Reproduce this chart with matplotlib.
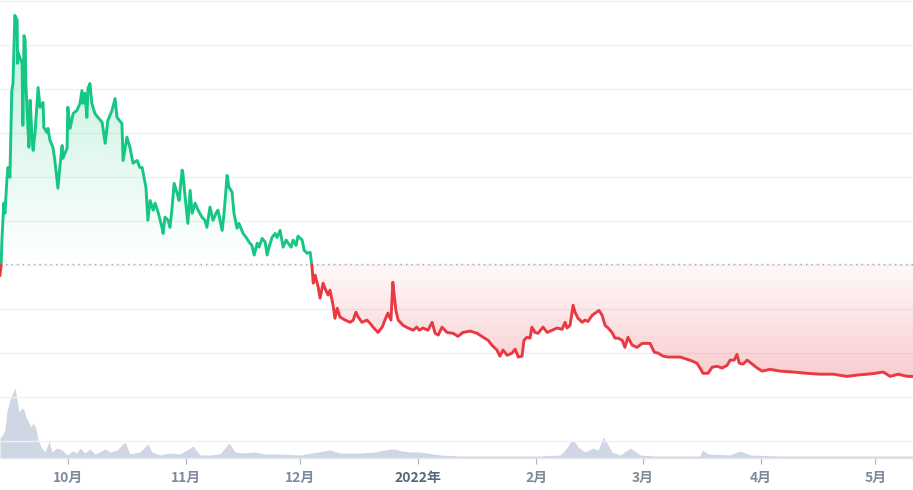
import numpy as np
import matplotlib
matplotlib.use("Agg")
import matplotlib.pyplot as plt
import matplotlib.dates as mdates
from matplotlib.patches import Rectangle
from matplotlib.path import Path
import matplotlib.transforms as mtransforms

plt.rcParams['font.family'] = ['Noto Sans CJK JP', 'DejaVu Sans']

# 데이터: 시작일(2021-09-13 06:00)로부터의 일수, 가격
start = np.datetime64('2021-09-13T06:00')
base_price = 5.02

price_days = [
    0, 0.3, 0.5, 1.0, 1.3, 1.8, 2.1, 2.6, 3.1, 3.4, 3.9, 4.5, 4.6, 4.7, 5.2, 5.8, 6.0, 6.3, 6.6, 6.8,
    7.1, 7.6,
    7.9, 8.4, 8.7, 9.2, 10.0, 10.5, 11.3, 11.5, 12.3, 12.6, 13.1, 13.9, 14.4, 15.2, 15.7, 16.3, 16.5,
    17.6, 17.8, 18.4, 19.2, 20.2, 21.0, 21.5, 21.8, 22.3, 22.8, 23.1, 23.6, 24.1, 24.9, 25.7, 26.8,
    27.6, 28.3, 29.4, 30.2, 30.7, 32.0, 32.3, 33.3, 34.1, 34.9, 36.0, 36.7,
    37.3, 37.8, 38.3, 38.8, 39.4, 40.2, 40.7, 41.5, 42.5, 42.8, 43.3, 44.1, 44.6, 45.1, 45.7, 46.5,
    47.0, 47.8, 48.0, 48.6, 49.3, 49.9, 50.4, 51.2, 52.0, 53.0, 53.8, 54.3, 55.1, 55.9, 56.7, 57.2,
    58.3, 58.8, 59.6, 60.1, 60.9, 61.4, 62.2, 62.7, 63.8, 64.6, 65.4, 66.1, 66.7, 67.5, 68.0, 68.8,
    69.6, 70.1, 70.6, 71.4, 72.2, 72.7, 73.5, 74.3, 75.1, 75.6, 76.4, 76.9, 77.7, 78.2, 79.3, 79.8,
    80.6, 81.4, 81.9, 82.2, 82.7, 83.5, 84.0, 84.8, 85.3, 86.1, 86.6, 87.4, 87.9, 88.5, 89.2, 90.6,
    91.9, 92.7, 93.4, 94.0, 95.0, 96.3, 97.1, 97.9, 99.2, 100.3, 101.0, 101.8, 102.6, 103.1, 103.4,
    103.9, 104.5, 105.8, 107.1, 108.4, 109.4, 110.0, 111.0, 112.3, 113.4, 114.2, 115.0, 116.0, 117.3,
    118.9, 120.2, 121.5, 123.4, 125.2, 126.8, 128.1, 129.1, 130.4, 131.2, 132.0, 133.1, 134.4, 135.2,
    136.0, 137.0, 137.5, 138.3, 139.1, 139.6, 140.4, 141.2, 142.5, 143.6, 144.9, 146.2, 147.5, 148.3,
    148.8, 149.6, 150.4, 150.9, 151.7, 152.8, 153.5, 154.3, 155.4, 156.2, 157.2, 158.0, 158.8, 159.6,
    160.6, 161.4, 162.2, 163.3, 164.0, 164.8, 165.9, 167.2, 168.5, 170.6, 171.7, 172.7, 174.0, 175.3,
    178.5, 180.3, 181.6, 182.9, 183.7, 184.5, 185.8, 186.9, 188.2, 189.5, 190.8, 191.6, 192.7, 193.4,
    194.0, 195.0, 196.1, 197.4, 198.7, 200.0, 202.1, 204.7, 208.1, 211.8, 215.2, 218.6, 222.3, 224.9,
    227.6, 229.7, 231.8, 233.6, 235.7, 238.1, 239.6,
]
prices = [
    4.77, 5.02, 5.57, 6.41, 6.18, 6.93, 7.22, 7.00, 8.97, 9.13, 10.68, 10.57, 9.59, 9.84, 9.72, 9.59, 8.18, 10.22, 10.11, 9.13,
    8.52, 7.68,
    8.75, 7.91, 7.61, 8.02, 9.04, 8.59, 8.70, 8.13, 8.02, 8.11, 7.84, 7.68, 7.38, 6.75, 7.22, 7.72, 7.43,
    7.66, 8.59, 8.11, 8.45, 8.52, 8.68, 8.97, 8.68, 8.91, 8.36, 9.02, 9.13, 8.68, 8.45, 8.36, 8.25,
    7.77, 8.29, 8.52, 8.79, 8.36, 8.22, 7.38, 7.91, 7.68, 7.32, 7.38, 7.22,
    7.22, 7.00, 6.77, 6.02, 6.47, 6.25, 6.41, 6.20, 5.86, 5.72, 6.09, 6.02, 5.86, 6.25, 6.86, 6.63,
    6.47, 7.16, 7.09, 6.54, 5.95, 6.70, 6.18, 6.41, 6.25, 6.09, 6.02, 5.86, 6.32, 6.02, 6.18, 6.25,
    5.79, 6.18, 7.04, 6.77, 6.66, 6.18, 5.84, 5.95, 5.72, 5.63, 5.52, 5.45, 5.23, 5.50, 5.41, 5.61,
    5.52, 5.23, 5.41, 5.63, 5.72, 5.63, 5.79, 5.41, 5.57, 5.50, 5.41, 5.57, 5.45, 5.66, 5.57, 5.34,
    5.27, 5.29, 4.95, 4.59, 4.77, 4.50, 4.25, 4.59, 4.47, 4.32, 4.43, 4.09, 3.79, 4.02, 3.82, 3.75,
    3.70, 3.75, 3.93, 3.82, 3.70, 3.75, 3.68, 3.59, 3.47, 3.59, 3.75, 3.91, 3.75, 4.61, 4.36,
    3.97, 3.75, 3.63, 3.57, 3.52, 3.59, 3.52, 3.57, 3.52, 3.70, 3.45, 3.41, 3.59, 3.47,
    3.45, 3.38, 3.47, 3.50, 3.45, 3.36, 3.29, 3.18, 3.07, 2.93, 3.07, 2.95, 3.00, 3.09,
    2.91, 2.93, 3.29, 3.36, 3.34, 3.59, 3.47, 3.45, 3.59, 3.47, 3.52, 3.57, 3.54, 3.70,
    3.57, 3.63, 4.09, 3.93, 3.79, 3.70, 3.75, 3.72, 3.86, 3.91, 3.97, 3.86, 3.63, 3.57,
    3.47, 3.34, 3.34, 3.29, 3.13, 3.36, 3.18, 3.13, 3.22, 3.22, 3.02, 3.00, 2.93, 2.91,
    2.91, 2.86, 2.82, 2.77, 2.66, 2.54, 2.54, 2.68, 2.70, 2.66, 2.72, 2.84, 2.84, 2.97,
    2.77, 2.75, 2.84, 2.75, 2.66, 2.59, 2.63, 2.59, 2.57, 2.54, 2.52, 2.52, 2.47, 2.50,
    2.52, 2.54, 2.57, 2.47, 2.52, 2.47, 2.47,
]

volume_days = [
    0, 0.5, 1.3, 1.8, 2.4, 3.1, 3.7, 3.9, 4.5, 5.0, 5.8, 6.3, 6.8, 7.6, 8.1, 8.7, 9.4, 10.0, 10.8, 11.8,
    12.9, 13.6, 15.0, 16.3, 17.6, 18.9, 20.2, 21.0, 22.3, 23.6, 24.9, 26.2, 27.6, 28.9, 30.7, 32.8,
    34.1, 36.7, 38.8, 39.9, 42.0, 44.6, 47.2, 49.1, 50.7, 52.5, 55.1, 57.7, 60.1, 61.7, 64.3, 66.9,
    69.6, 73.5, 78.7, 86.6, 89.2, 94.5, 98.4, 101.0, 102.4, 103.7, 105.5, 107.6, 110.2, 115.5, 120.7,
    131.2, 141.7, 147.0, 148.3, 150.1, 150.9, 151.7, 153.5, 155.6, 157.0, 158.3, 159.3, 160.6, 162.7,
    165.4, 168.0, 171.9, 183.7, 184.3, 185.8, 191.6, 194.2, 196.9, 204.7, 223.1, 239.6,
]
volumes = [
    21, 22, 28, 46, 55, 63, 68, 70, 58, 46, 50, 48, 41, 35, 31, 35, 30, 18, 11, 6,
    17, 6, 10, 8, 3, 7, 5, 10, 5, 9, 4, 6, 9, 6, 8, 16,
    4, 6, 14, 6, 3, 5, 4, 8, 12, 3, 3, 4, 15, 6, 5, 6,
    4, 4, 3, 8, 5, 5, 6, 8, 9, 9, 7, 6, 6, 3, 2,
    2, 2, 3, 8, 18, 16, 11, 6, 10, 8, 21, 15, 6, 3,
    10, 3, 2, 2, 8, 4, 3, 7, 3, 2, 2, 2,
]

month_ticks = ['2021-10-01', '2021-11-01', '2021-12-01', '2022-01-01',
               '2022-02-01', '2022-03-01', '2022-04-01', '2022-05-01']
month_labels = ['10月', '11月', '12月', '2022年', '2月', '3月', '4月', '5月']

GREEN = '#16c784'
RED = '#ea3943'
VOL = '#cfd6e4'
GRID = '#eff2f5'
LABEL = '#808a9d'


def to_dates(days):
    return start + (np.array(days) * 24 * 60).astype('timedelta64[m]')


def gradient_fill(ax, x, y, base, above, color, alpha_max):
    """기준선과 선 사이 그라데이션 영역"""
    x = np.asarray(x)
    y = np.asarray(y)
    where = y >= base if above else y <= base
    coll = ax.fill_between(x, y, base, where=where, interpolate=True,
                           facecolor='none', edgecolor='none')
    clip = Path.make_compound_path(*coll.get_paths())
    if above:
        y0, y1 = base, y.max()
        grad = np.linspace(0, alpha_max, 256)
    else:
        y0, y1 = y.min(), base
        grad = np.linspace(alpha_max, 0.03, 256)
    img = np.zeros((256, 1, 4))
    img[:, 0, :3] = matplotlib.colors.to_rgb(color)
    img[:, 0, 3] = grad
    xn = mdates.date2num(x)
    im = ax.imshow(img, aspect='auto', origin='lower',
                   extent=[xn[0], xn[-1], y0, y1], zorder=2, interpolation='bilinear')
    im.set_clip_path(clip, transform=ax.transData)


fig = plt.figure(figsize=(9.13, 4.90), dpi=100)
ax = fig.add_axes([0, 32 / 490, 1, 458 / 490])
ax_v = ax.twinx()
ax.set_zorder(ax_v.get_zorder() + 1)
ax.patch.set_visible(False)

px = to_dates(price_days)
vx = to_dates(volume_days)
x_end = to_dates([239.6])[0]

# 거래량
ax_v.fill_between(vx, volumes, 0, color=VOL, linewidth=0)
ax_v.set_ylim(0, max(volumes) / 0.153)
ax_v.axis('off')

# 가격 그라데이션
gradient_fill(ax, px, prices, base_price, True, GREEN, 0.28)
gradient_fill(ax, px, prices, base_price, False, RED, 0.25)

# 가격 선 (기준선 위: 초록, 아래: 빨강)
blend = mtransforms.blended_transform_factory(ax.transAxes, ax.transData)
for color, rect in [(GREEN, Rectangle((0, base_price), 1, 100, transform=blend)),
                    (RED, Rectangle((0, base_price - 100), 1, 100, transform=blend))]:
    line, = ax.plot(px, prices, color=color, lw=2.1, solid_joinstyle='round', zorder=4)
    line.set_clip_path(rect)

ax.axhline(base_price, color='#97a2b6', lw=1.0, ls=(0, (1, 3)), zorder=3)

ax.set_ylim(0.614, 11.03)
ax.set_xlim(start, x_end)
ax.set_yticks(np.arange(1, 12))
ax.grid(axis='y', color=GRID, lw=1)
ax.tick_params(axis='y', left=False, labelleft=False)

ax.set_xticks(np.array(month_ticks, dtype='datetime64[D]'))
ax.set_xticklabels(month_labels)
ax.tick_params(axis='x', length=4, color='#a6b0c3', pad=5, labelsize=10, labelcolor=LABEL)
for lab in ax.get_xticklabels():
    lab.set_fontweight('semibold')
    if lab.get_text() == '2022年':
        lab.set_fontweight('bold')
        lab.set_color('#58667e')

for side in ['top', 'left', 'right']:
    ax.spines[side].set_visible(False)
ax.spines['bottom'].set_color('#e3e7ee')
ax.spines['bottom'].set_linewidth(1)

fig.savefig('out.png', dpi=100)
